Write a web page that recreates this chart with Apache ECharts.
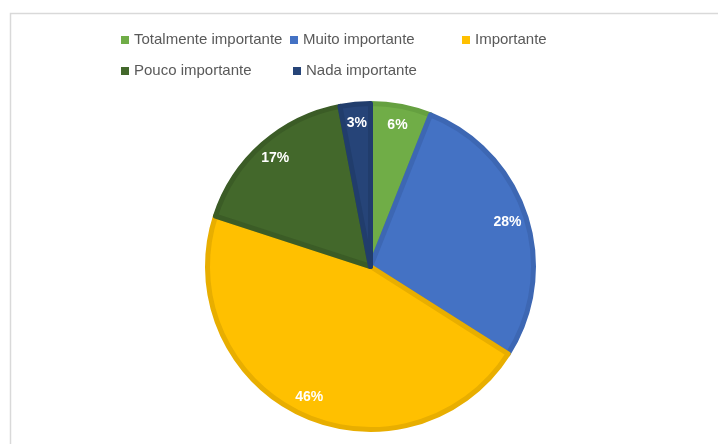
<!DOCTYPE html>
<html>
<head>
<meta charset="utf-8">
<script src="https://cdn.jsdelivr.net/npm/echarts@6/dist/echarts.min.js"></script>
<style>html,body{margin:0;padding:0;background:#fff;}#c{width:718px;height:444px;}</style>
</head>
<body>
<div id="c"></div>
<script>
const categories = ['Totalmente importante', 'Muito importante', 'Importante', 'Pouco importante', 'Nada importante'];
const values = [6, 28, 46, 17, 3];
const colors = ['#70AD47', '#4472C4', '#FFC000', '#43682B', '#264478'];
const borderColors = ['#65A040', '#3D67B3', '#E8AE00', '#3B5C26', '#213D6C'];

const legendPos = [
  {left: 121, top: 32}, {left: 290, top: 32}, {left: 462, top: 32},
  {left: 121, top: 63}, {left: 293, top: 63}
];

const chart = echarts.init(document.getElementById('c'), null, {renderer: 'canvas'});
const center = [370.5, 266.5];

const legends = categories.map((name, i) => ({
  data: [{name: name, itemStyle: {color: colors[i], borderWidth: 0}}],
  left: legendPos[i].left,
  top: legendPos[i].top,
  padding: 0,
  icon: 'rect',
  itemWidth: 8,
  itemHeight: 8,
  selectedMode: false,
  textStyle: {fontFamily: 'Liberation Sans', fontSize: 15, color: '#595959', lineHeight: 16}
}));

chart.setOption({
  animation: false,
  graphic: [{
    type: 'rect',
    shape: {x: 10.5, y: 13.5, width: 720, height: 440},
    style: {fill: 'none', stroke: '#d9d9d9', lineWidth: 1.5},
    silent: true
  }],
  legend: legends,
  series: [
    {
      type: 'pie',
      center: center,
      radius: [0, 163],
      startAngle: 90,
      clockwise: true,
      silent: true,
      label: {show: false},
      labelLine: {show: false},
      data: categories.map((name, i) => ({
        name: name,
        value: values[i],
        itemStyle: {color: colors[i], borderColor: borderColors[i], borderWidth: 5}
      }))
    },
    {
      type: 'pie',
      center: center,
      radius: [116, 166],
      startAngle: 90,
      clockwise: true,
      silent: true,
      itemStyle: {color: 'rgba(0,0,0,0)'},
      label: {
        show: true,
        position: 'inside',
        formatter: '{d}%',
        color: '#ffffff',
        fontWeight: 'bold',
        fontFamily: 'Liberation Sans',
        fontSize: 14
      },
      labelLine: {show: false},
      data: categories.map((name, i) => ({name: name, value: values[i]}))
    }
  ]
});
</script>
</body>
</html>
